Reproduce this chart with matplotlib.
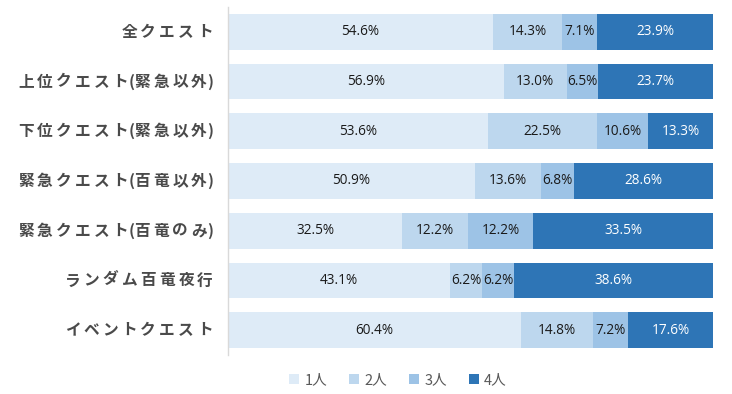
import matplotlib
matplotlib.use("Agg")
import matplotlib.pyplot as plt
from matplotlib.patches import Patch
import numpy as np

categories = ["全クエスト", "上位クエスト(緊急以外)", "下位クエスト(緊急以外)",
              "緊急クエスト(百竜以外)", "緊急クエスト(百竜のみ)", "ランダム百竜夜行", "イベントクエスト"]
series_names = ["1人", "2人", "3人", "4人"]
p1 = [54.6, 56.9, 53.6, 50.9, 32.5, 43.1, 60.4]
p2 = [14.3, 13.0, 22.5, 13.6, 12.2, 6.2, 14.8]
p3 = [7.1, 6.5, 10.6, 6.8, 12.2, 6.2, 7.2]
p4 = [23.9, 23.7, 13.3, 28.6, 33.5, 38.6, 17.6]

colors = ["#DEEBF7", "#BDD7EE", "#9DC3E6", "#2E75B6"]
text_colors = ["#1A1A1A", "#1A1A1A", "#1A1A1A", "#FFFFFF"]

fig = plt.figure(figsize=(7.32, 3.94), dpi=100)
ax = fig.add_axes([228/732, 1-355/394, (713-228)/732, (355-7)/394])

data = np.array([p1, p2, p3, p4])
totals = data.sum(axis=0)
y = np.arange(len(categories))
left = np.zeros(len(categories))
for i in range(4):
    w = data[i] / totals * 100
    bars = ax.barh(y, w, left=left, height=0.72, color=colors[i], label=series_names[i])
    for j, b in enumerate(bars):
        ax.text(left[j] + w[j]/2, y[j], f"{data[i][j]:.1f}%", ha="center", va="center",
                fontsize=9.8, color=text_colors[i], family=["Open Sans", "DejaVu Sans"])
    left += w

ax.set_xlim(0, 100)
ax.set_ylim(len(categories)-0.5, -0.5)
ax.set_xticks([])
ax.set_yticks([])
for s in ["top", "right", "bottom"]:
    ax.spines[s].set_visible(False)
ax.spines["left"].set_color("#D9D9D9")
ax.spines["left"].set_linewidth(1)

# category labels with letter spacing
fig.canvas.draw()
renderer = fig.canvas.get_renderer()
lab_font = dict(fontsize=11.3, fontweight="bold", color="#4A4A4A",
                family=["Noto Sans CJK JP", "DejaVu Sans"])
right_x = 213
for j, cat in enumerate(categories):
    yc = ax.transData.transform((0, y[j]))[1]
    widths = []
    for ch in cat:
        t = fig.text(0, 0, ch, **lab_font)
        bb = t.get_window_extent(renderer)
        widths.append(bb.width)
        t.remove()
    gaps = []
    for k in range(len(cat) - 1):
        if cat[k] in "()" or cat[k + 1] in "()":
            gaps.append(0.0)
        else:
            gaps.append(3.2)
    total = sum(widths) + sum(gaps)
    x = right_x - total
    for k, (ch, wd) in enumerate(zip(cat, widths)):
        fig.text(x / 732, yc / 394, ch, ha="left", va="center", **lab_font)
        x += wd + (gaps[k] if k < len(gaps) else 0)

handles = [Patch(facecolor=c, edgecolor="none") for c in colors]
fig.legend(handles, series_names, loc="center", bbox_to_anchor=(398/732, 14/394),
           ncol=4, frameon=False, handlelength=0.7, handleheight=0.7,
           handletextpad=0.35, columnspacing=1.5,
           prop={"family": ["Noto Sans CJK JP", "DejaVu Sans"], "size": 10.5},
           labelcolor="#595959")

fig.savefig("out.png", dpi=100)
